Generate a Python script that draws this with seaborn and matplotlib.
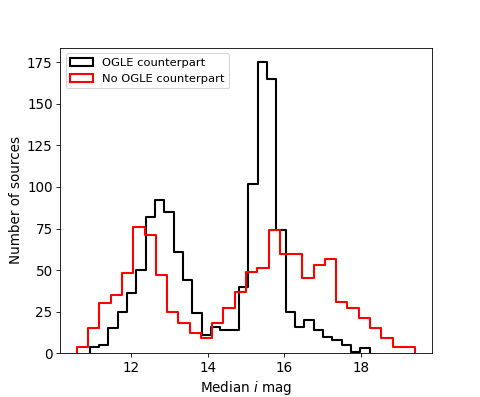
import numpy as np
import pandas as pd
import matplotlib
matplotlib.use("Agg")
import matplotlib.pyplot as plt
from matplotlib.patches import Patch
import seaborn as sns

# histogram counts (30 bins each)
ogle_range = (10.91, 18.22)
ogle_counts = [4, 5, 15, 25, 36, 50, 82, 92, 85, 61,
               44, 24, 11, 16, 14, 14, 40, 102, 175, 165,
               74, 25, 16, 20, 14, 10, 8, 5, 1, 3]

noogle_range = (10.58, 19.41)
noogle_counts = [4, 15, 30, 35, 48, 76, 71, 47, 25, 18,
                 12, 9, 18, 27, 37, 49, 51, 74, 60, 60,
                 45, 53, 57, 31, 27, 21, 15, 9, 4, 4]

labels = ["OGLE counterpart", "No OGLE counterpart"]
colors = ["black", "red"]


def hist_table(rng, counts):
    edges = np.linspace(rng[0], rng[1], len(counts) + 1)
    centers = 0.5 * (edges[:-1] + edges[1:])
    # zero-width bins at both ends so the outline drops to the axis
    padded = np.concatenate([[edges[0]], edges, [edges[-1]]])
    return pd.DataFrame({"mag": centers, "n": counts}), padded.tolist()


plt.figure(figsize=(6.4, 397 / 75), dpi=75)
ax = plt.gca()

for (rng, counts), col in zip([(ogle_range, ogle_counts),
                               (noogle_range, noogle_counts)], colors):
    df, bins = hist_table(rng, counts)
    sns.histplot(data=df, x="mag", weights="n", bins=bins, element="step",
                 fill=False, color=col, linewidth=2, ax=ax)

handles = [Patch(facecolor="none", edgecolor=c, linewidth=2) for c in colors]
ax.legend(handles, labels, loc="upper left", fontsize=11)
ax.set_xlabel("Median $i$ mag", fontsize=13)
ax.set_ylabel("Number of sources", fontsize=13)
ax.tick_params(labelsize=13)

plt.savefig("out.png", dpi=75)
